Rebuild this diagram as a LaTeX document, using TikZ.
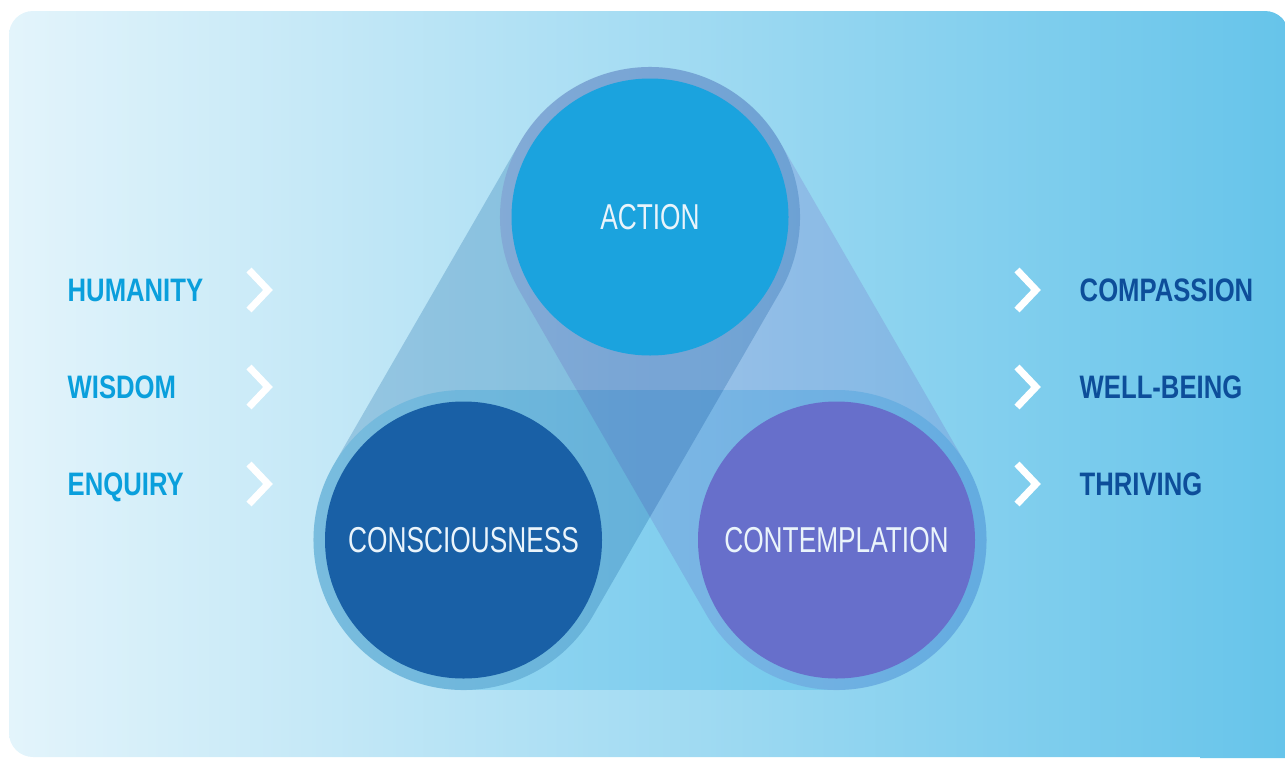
\documentclass[tikz,border=0pt]{standalone}
\usepackage{fontspec}
\newfontfamily\circfont[FakeStretch=0.73]{Liberation Sans}
\newfontfamily\labfont[FakeStretch=0.79]{Liberation Sans}
\definecolor{bgL}{HTML}{E3F4FB}
\definecolor{bgR}{HTML}{66C4EA}
\definecolor{bandAB}{HTML}{C5DBEA}
\definecolor{bandAC}{HTML}{F3E1F5}
\definecolor{bandBC}{HTML}{CCF1FB}
\definecolor{actC}{HTML}{1BA3DE}
\definecolor{conC}{HTML}{1960A6}
\definecolor{ctmC}{HTML}{676FCB}
\definecolor{txtC}{HTML}{EAF4FB}
\definecolor{leftC}{HTML}{0A9FDC}
\definecolor{rightC}{HTML}{0D4E9A}
\begin{document}
\begin{tikzpicture}[x=1pt,y=-1pt,
  band/.style={line width=300pt, line cap=round, blend mode=multiply},
  core/.style={circle, minimum size=277pt, inner sep=0pt, text=txtC,
    font=\circfont\fontsize{36}{40}\selectfont},
  lab/.style={inner sep=0pt, text height=23.3pt, text depth=0pt, anchor=west,
    font=\labfont\bfseries\fontsize{32.5}{36}\selectfont},
  chev/.style={draw=white, line width=7pt, miter limit=10, line join=miter, line cap=butt}]
\useasboundingbox (0,0) rectangle (1285,758);
\shade[left color=bgL, right color=bgR] [rounded corners=24pt] (9,11) rectangle (1289,757)
  [sharp corners] (1200,600) rectangle (1289,758);
\coordinate (pA) at (650,217);
\coordinate (pB) at (463.5,540);
\coordinate (pC) at (836.5,540);
\begin{scope}
\draw[band, draw=bandAB] (pA) -- (pB);
\draw[band, draw=bandAC] (pA) -- (pC);
\draw[band, draw=bandBC] (pB) -- (pC);
\end{scope}
\node[core, fill=actC] (action) at (pA) {ACTION};
\node[core, fill=conC] (consc) at (pB) {CONSCIOUSNESS};
\node[core, fill=ctmC] (contemp) at (pC) {CONTEMPLATION};
\node[lab, text=leftC] (humanity) at (67.5,290) {HUMANITY};
\node[lab, text=leftC] (wisdom) at (67.5,387) {WISDOM};
\node[lab, text=leftC] (enquiry) at (67.5,484) {ENQUIRY};
\node[lab, text=rightC] (compassion) at (1079.5,290) {COMPASSION};
\node[lab, text=rightC] (wellbeing) at (1079.5,387) {WELL-BEING};
\node[lab, text=rightC] (thriving) at (1079.5,484) {THRIVING};
\foreach \yy in {290,387,484} {
  \draw[chev] (249,\yy-20) -- (268,\yy) -- (249,\yy+20);
  \draw[chev] (1017,\yy-20) -- (1036,\yy) -- (1017,\yy+20);
}
\end{tikzpicture}
\end{document}
